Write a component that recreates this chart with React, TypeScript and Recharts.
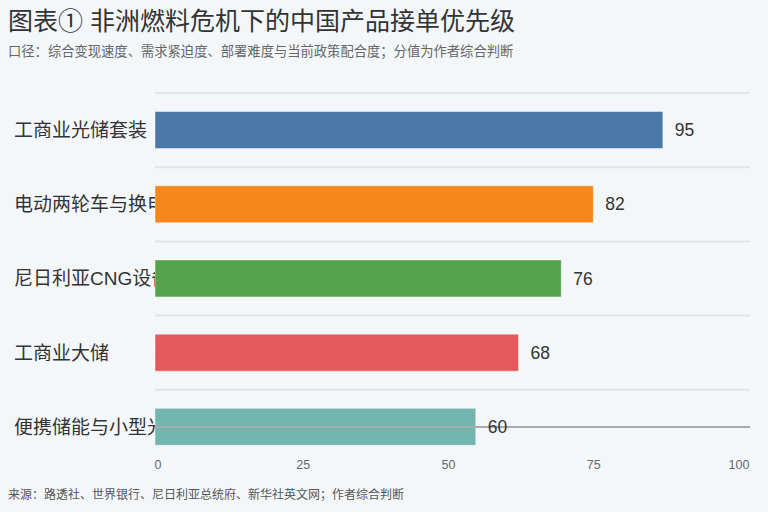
import React from 'react'
import {
  ComposedChart,
  Bar,
  Line,
  XAxis,
  YAxis,
  CartesianGrid,
  Cell,
  LabelList,
  ReferenceLine
} from 'recharts'

const categories = [
  '工商业光储套装',
  '电动两轮车与换电',
  '尼日利亚CNG设备',
  '工商业大储',
  '便携储能与小型光伏'
]
const scores = [95, 82, 76, 68, 60]
const barColors = ['#4a78a8', '#f5881b', '#55a24c', '#e45a5a', '#72b6b0']
const axisTicks = [0, 25, 50, 75, 100]

const data = categories.map((name, i) => ({ name, score: scores[i] }))

const FONT = '"Liberation Sans", "Noto Sans CJK SC", sans-serif'
const MARGIN_LEFT = 10
const Y_AXIS_WIDTH = 145
const PLOT_LEFT = MARGIN_LEFT + Y_AXIS_WIDTH

// bars sit over the category names, so the names are cut where the plot starts
const CategoryTick = ({ y, index }: any) => (
  <g>
    <defs>
      <clipPath id={`cat-clip-${index}`}>
        <rect x={0} y={y - 20} width={PLOT_LEFT} height={40} />
      </clipPath>
    </defs>
    <text
      x={14}
      y={y}
      dy="0.36em"
      textAnchor="start"
      fill="#333"
      fontSize={19}
      fontFamily={FONT}
      clipPath={`url(#cat-clip-${index})`}
    >
      {categories[index]}
    </text>
  </g>
)

const ValueTick = ({ x, y, payload }: any) => (
  <text x={x} y={y} dy="0.36em" textAnchor="middle" fill="#666" fontSize={12.5} fontFamily={FONT}>
    {payload.value}
  </text>
)

// grid lines on the top edge of each category band
const bandEdges = ({ offset }: any) =>
  categories.map((_, i) => offset.top + (offset.height * i) / categories.length)

export default function App() {
  return (
    <div
      style={{
        position: 'absolute',
        left: 0,
        top: 0,
        width: 768,
        height: 512,
        background: '#f4f7fa',
        fontFamily: FONT,
        overflow: 'hidden'
      }}
    >
      <div style={{ position: 'absolute', left: 8, top: 1, fontSize: 25, color: '#333', whiteSpace: 'nowrap' }}>
        图表① 非洲燃料危机下的中国产品接单优先级
      </div>
      <div style={{ position: 'absolute', left: 8, top: 41, fontSize: 13.3, color: '#666', whiteSpace: 'nowrap' }}>
        口径：综合变现速度、需求紧迫度、部署难度与当前政策配合度；分值为作者综合判断
      </div>
      <div style={{ position: 'absolute', left: 0, top: 0 }}>
        <ComposedChart
          width={768}
          height={512}
          data={data}
          layout="vertical"
          barCategoryGap="25%"
          margin={{ top: 93, right: 18, bottom: 18, left: MARGIN_LEFT }}
        >
          <CartesianGrid
            horizontal
            vertical={false}
            horizontalCoordinatesGenerator={bandEdges}
            stroke="#e1e4e8"
            strokeWidth={2}
          />
          <XAxis xAxisId="bars" type="number" domain={[0, 111.3]} hide />
          <XAxis
            xAxisId="axis"
            type="number"
            domain={[0, 100]}
            allowDataOverflow
            ticks={axisTicks}
            padding={{ left: 3, right: 11 }}
            height={30}
            tickLine={false}
            axisLine={false}
            tickSize={0}
            tickMargin={0}
            tick={<ValueTick />}
          />
          <YAxis
            yAxisId="cats"
            type="category"
            dataKey="name"
            width={Y_AXIS_WIDTH}
            tickLine={false}
            axisLine={false}
            tick={<CategoryTick />}
          />
          <ReferenceLine
            xAxisId="bars"
            yAxisId="cats"
            y={categories[categories.length - 1]}
            stroke="#a8abad"
            strokeWidth={2}
          />
          <Line
            xAxisId="axis"
            yAxisId="cats"
            dataKey="score"
            stroke="none"
            dot={false}
            activeDot={false}
            legendType="none"
            isAnimationActive={false}
          />
          <Bar
            xAxisId="bars"
            yAxisId="cats"
            dataKey="score"
            stroke="rgba(255,255,255,0.45)"
            strokeWidth={1}
            isAnimationActive={false}
          >
            {data.map((d, i) => (
              <Cell key={d.name} fill={barColors[i]} />
            ))}
            <LabelList
              dataKey="score"
              position="right"
              offset={12}
              fill="#333"
              fontSize={17.5}
              fontFamily={FONT}
            />
          </Bar>
        </ComposedChart>
      </div>
      <div style={{ position: 'absolute', left: 8, top: 485, fontSize: 12, color: '#555', whiteSpace: 'nowrap' }}>
        来源：路透社、世界银行、尼日利亚总统府、新华社英文网；作者综合判断
      </div>
    </div>
  )
}
